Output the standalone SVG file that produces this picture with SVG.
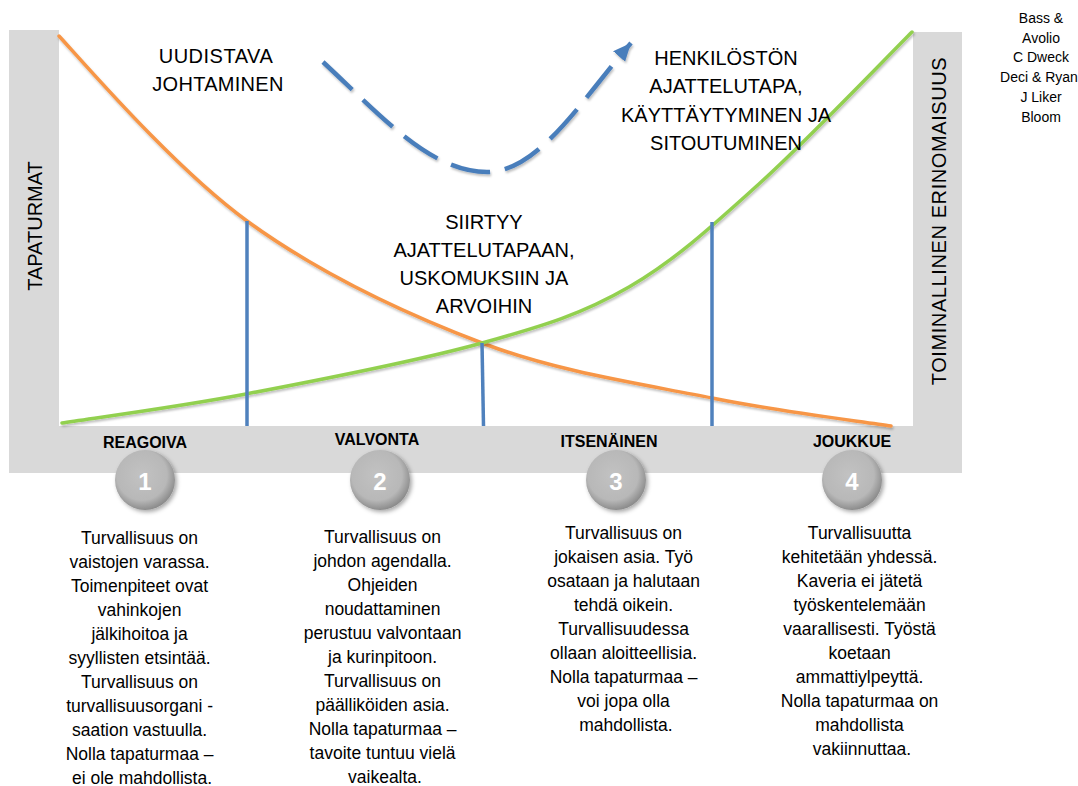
<svg xmlns="http://www.w3.org/2000/svg" width="1078" height="786" viewBox="0 0 1078 786">
<style>
  .bar { fill: #d9d9d9; }
  .head { font-family: "Liberation Sans", Arial, sans-serif; font-size: 20px; fill: #000; text-anchor: middle; }
  .axis { font-family: "Liberation Sans", Arial, sans-serif; font-size: 20px; fill: #000; text-anchor: middle; }
  .stage { font-family: "Liberation Sans", Arial, sans-serif; font-size: 16px; font-weight: bold; fill: #000; text-anchor: middle; }
  .num { font-family: "Liberation Sans", Arial, sans-serif; font-size: 24px; font-weight: bold; fill: #fff; text-anchor: middle; }
  .body { font-family: "Liberation Sans", Arial, sans-serif; font-size: 17.5px; fill: #000; text-anchor: middle; }
  .ref { font-family: "Liberation Sans", Arial, sans-serif; font-size: 14px; fill: #000; text-anchor: middle; }
  .curve { fill: none; stroke-width: 3.5; stroke-linecap: round; filter: url(#sh); }
  .vline { stroke: #4f81bd; stroke-width: 3.5; fill: none; }
  .dash { fill: none; stroke: #4a7ebb; stroke-width: 4.5; stroke-dasharray: 40 15; filter: url(#sh); }
  .disc { fill: url(#discGrad); filter: url(#dsh); }
</style>
<defs>
  <radialGradient id="discGrad" cx="45%" cy="42%" r="58%">
    <stop offset="0" stop-color="#c2c2c2"/>
    <stop offset="0.72" stop-color="#b8b8b8"/>
    <stop offset="1" stop-color="#8c8c8c"/>
  </radialGradient>
  <filter id="sh" x="-10%" y="-10%" width="120%" height="130%">
    <feDropShadow dx="1" dy="2" stdDeviation="1.2" flood-color="#000" flood-opacity="0.25"/>
  </filter>
  <filter id="dsh" x="-30%" y="-30%" width="160%" height="160%">
    <feDropShadow dx="2" dy="2" stdDeviation="2" flood-color="#000" flood-opacity="0.35"/>
  </filter>
  <marker id="arrow" markerUnits="userSpaceOnUse" markerWidth="22" markerHeight="18" refX="18" refY="8" orient="auto">
    <path d="M0,0 L18,8 L0,16 z" fill="#4a7ebb"/>
  </marker>
</defs>

<g id="frame">
  <rect class="bar" x="9" y="30" width="50" height="443"/>
  <rect class="bar" x="9" y="426" width="953" height="47"/>
  <rect class="bar" x="913" y="32" width="49" height="441"/>
</g>

<g id="axis-labels">
  <text class="axis" transform="translate(42,226) rotate(-90)" font-size="19">TAPATURMAT</text>
  <text class="axis" transform="translate(946,221) rotate(-90)" font-size="21" letter-spacing="0.6">TOIMINALLINEN ERINOMAISUUS</text>
</g>

<g id="connectors">
  <path id="orange-curve" class="curve" stroke="#f79646" d="M59,36 C90,70 176.5,169.8 247,221 C317.5,272.2 404.5,313.5 482,343 C559.5,372.5 643.8,384.2 712,398 C780.2,411.8 861.2,421.3 891,426"/>
  <path id="green-curve" class="curve" stroke="#92d050" d="M62,423 C92.7,418.2 176,407.3 246,394 C316,380.7 418.2,360.8 482,343 C545.8,325.2 582.7,313.7 629,287 C675.3,260.3 712.8,225.5 760,183 C807.2,140.5 886.7,57.2 912,32"/>
  <line class="vline" x1="247" y1="221" x2="247" y2="426"/>
  <line class="vline" x1="482" y1="343" x2="483.5" y2="426"/>
  <line class="vline" x1="712" y1="222" x2="712" y2="426"/>
  <path id="dashed-arrow" class="dash" d="M323,62 C380,115 430,172 487,172 C540,172 585,95 631,43" marker-end="url(#arrow)"/>
</g>

<g id="node-uudistava">
  <text class="head" x="216" y="63" letter-spacing="0.5">UUDISTAVA</text>
  <text class="head" x="218" y="91" letter-spacing="0.3">JOHTAMINEN</text>
</g>

<g id="node-henkiloston">
  <text class="head" x="726" y="65">HENKILÖSTÖN</text>
  <text class="head" x="726" y="93">AJATTELUTAPA,</text>
  <text class="head" x="726" y="122">KÄYTTÄYTYMINEN JA</text>
  <text class="head" x="726" y="150">SITOUTUMINEN</text>
</g>

<g id="node-siirtyy">
  <text class="head" x="484" y="229">SIIRTYY</text>
  <text class="head" x="484" y="257">AJATTELUTAPAAN,</text>
  <text class="head" x="484" y="285">USKOMUKSIIN JA</text>
  <text class="head" x="484" y="313">ARVOIHIN</text>
</g>

<g id="stage-1">
  <text class="stage" x="145" y="448">REAGOIVA</text>
  <circle class="disc" cx="145" cy="480" r="30"/>
  <text class="num" x="145" y="490">1</text>
  <text class="body" x="142" y="544">
    <tspan x="142" dy="0">Turvallisuus on</tspan>
    <tspan x="142" dy="24">vaistojen varassa.</tspan>
    <tspan x="142" dy="24">Toimenpiteet ovat</tspan>
    <tspan x="142" dy="24">vahinkojen</tspan>
    <tspan x="142" dy="24">jälkihoitoa ja</tspan>
    <tspan x="142" dy="24">syyllisten etsintää.</tspan>
    <tspan x="142" dy="24">Turvallisuus on</tspan>
    <tspan x="142" dy="24">turvallisuusorgani -</tspan>
    <tspan x="142" dy="24">saation vastuulla.</tspan>
    <tspan x="142" dy="24">Nolla tapaturmaa  –</tspan>
    <tspan x="142" dy="24">ei ole mahdollista.</tspan>
  </text>
</g>

<g id="stage-2">
  <text class="stage" x="377" y="445">VALVONTA</text>
  <circle class="disc" cx="380" cy="480" r="30"/>
  <text class="num" x="380" y="490">2</text>
  <text class="body" x="385" y="543">
    <tspan x="385" dy="0">Turvallisuus on</tspan>
    <tspan x="385" dy="24">johdon agendalla.</tspan>
    <tspan x="385" dy="24">Ohjeiden</tspan>
    <tspan x="385" dy="24">noudattaminen</tspan>
    <tspan x="385" dy="24">perustuu valvontaan</tspan>
    <tspan x="385" dy="24">ja kurinpitoon.</tspan>
    <tspan x="385" dy="24">Turvallisuus on</tspan>
    <tspan x="385" dy="24">päälliköiden asia.</tspan>
    <tspan x="385" dy="24">Nolla tapaturmaa  –</tspan>
    <tspan x="385" dy="24">tavoite tuntuu vielä</tspan>
    <tspan x="385" dy="24">vaikealta.</tspan>
  </text>
</g>

<g id="stage-3">
  <text class="stage" x="609" y="447">ITSENÄINEN</text>
  <circle class="disc" cx="616" cy="480" r="30"/>
  <text class="num" x="616" y="490">3</text>
  <text class="body" x="626" y="539">
    <tspan x="626" dy="0">Turvallisuus on</tspan>
    <tspan x="626" dy="24">jokaisen asia. Työ</tspan>
    <tspan x="626" dy="24">osataan ja halutaan</tspan>
    <tspan x="626" dy="24">tehdä oikein.</tspan>
    <tspan x="626" dy="24">Turvallisuudessa</tspan>
    <tspan x="626" dy="24">ollaan aloitteellisia.</tspan>
    <tspan x="626" dy="24">Nolla tapaturmaa  –</tspan>
    <tspan x="626" dy="24">voi jopa olla</tspan>
    <tspan x="626" dy="24">mahdollista.</tspan>
  </text>
</g>

<g id="stage-4">
  <text class="stage" x="852" y="447">JOUKKUE</text>
  <circle class="disc" cx="852" cy="480" r="30"/>
  <text class="num" x="852" y="490">4</text>
  <text class="body" x="862" y="539">
    <tspan x="862" dy="0">Turvallisuutta</tspan>
    <tspan x="862" dy="24">kehitetään yhdessä.</tspan>
    <tspan x="862" dy="24">Kaveria ei jätetä</tspan>
    <tspan x="862" dy="24">työskentelemään</tspan>
    <tspan x="862" dy="24">vaarallisesti. Työstä</tspan>
    <tspan x="862" dy="24">koetaan</tspan>
    <tspan x="862" dy="24">ammattiylpeyttä.</tspan>
    <tspan x="862" dy="24">Nolla tapaturmaa on</tspan>
    <tspan x="862" dy="24">mahdollista</tspan>
    <tspan x="862" dy="24">vakiinnuttaa.</tspan>
  </text>
</g>

<g id="references">
  <text class="ref" x="1041" y="23">Bass &amp;</text>
  <text class="ref" x="1041" y="43">Avolio</text>
  <text class="ref" x="1041" y="62">C Dweck</text>
  <text class="ref" x="1039" y="82">Deci &amp; Ryan</text>
  <text class="ref" x="1041" y="102">J Liker</text>
  <text class="ref" x="1041" y="122">Bloom</text>
</g>
</svg>
